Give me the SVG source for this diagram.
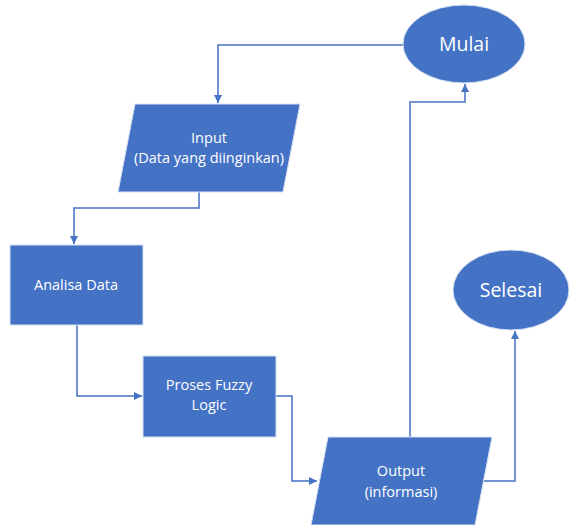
<svg xmlns="http://www.w3.org/2000/svg" width="569" height="525" viewBox="0 0 569 525">
<style>
.shape{fill:#4472C4;stroke:#D6E0F2;stroke-width:1}
.t{fill:#ffffff;font-family:"Open Sans","Liberation Sans",sans-serif;font-size:14.5px;text-anchor:middle}
.big{font-size:19.5px}
.c{fill:none;stroke:#4472C4;stroke-width:1.5}
</style>
<defs>
<marker id="a" viewBox="0 0 10 10" refX="10" refY="5" markerWidth="8" markerHeight="8" markerUnits="userSpaceOnUse" orient="auto">
<path d="M0,0 L10,5 L0,10 Z" fill="#4472C4"/>
</marker>
</defs>
<rect width="569" height="525" fill="#ffffff"/>
<g id="connectors">
<polyline class="c" points="403,45 218,45 218,103" marker-end="url(#a)"/>
<polyline class="c" points="199,192 199,208 74,208 74,244" marker-end="url(#a)"/>
<polyline class="c" points="77,325 77,396 142,396" marker-end="url(#a)"/>
<polyline class="c" points="276,396 292,396 292,481 317,481" marker-end="url(#a)"/>
<polyline class="c" points="410,437 410,102 465,102 465,84" marker-end="url(#a)"/>
<polyline class="c" points="482,481 515,481 515,331" marker-end="url(#a)"/>
</g>
<g id="mulai">
<ellipse class="shape" cx="464" cy="44" rx="61" ry="39"/>
<text class="t big" x="464" y="51">Mulai</text>
</g>
<g id="input">
<polygon class="shape" points="135,104 300,104 283,192 118,192"/>
<text class="t" x="209" y="143">Input</text>
<text class="t" x="209" y="163">(Data yang diinginkan)</text>
</g>
<g id="analisa">
<rect class="shape" x="10" y="245" width="133" height="80"/>
<text class="t" x="76" y="290">Analisa Data</text>
</g>
<g id="proses">
<rect class="shape" x="143" y="356" width="133" height="81"/>
<text class="t" x="209" y="390">Proses Fuzzy</text>
<text class="t" x="209" y="410">Logic</text>
</g>
<g id="output">
<polygon class="shape" points="328,437 492,437 475,525 311,525"/>
<text class="t" x="401" y="476">Output</text>
<text class="t" x="401" y="497">(informasi)</text>
</g>
<g id="selesai">
<ellipse class="shape" cx="511" cy="290" rx="58" ry="40"/>
<text class="t big" x="511" y="297">Selesai</text>
</g>
</svg>
